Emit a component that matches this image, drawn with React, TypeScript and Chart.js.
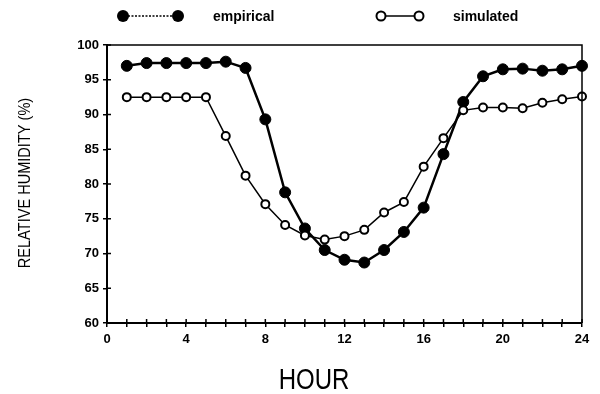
import React, { useEffect, useRef } from "react";
import { Chart, registerables } from "chart.js";

Chart.register(...registerables);

// Hourly relative humidity (%) over one day
const hours = [1, 2, 3, 4, 5, 6, 7, 8, 9, 10, 11, 12, 13, 14, 15, 16, 17, 18, 19, 20, 21, 22, 23, 24];
const empirical = [97.0, 97.4, 97.4, 97.4, 97.4, 97.6, 96.7, 89.3, 78.8, 73.6, 70.5, 69.1, 68.7, 70.5, 73.1, 76.6, 84.3, 91.8, 95.5, 96.5, 96.6, 96.3, 96.5, 97.0];
const simulated = [92.5, 92.5, 92.5, 92.5, 92.5, 86.9, 81.2, 77.1, 74.1, 72.6, 72.0, 72.5, 73.4, 75.9, 77.4, 82.5, 86.6, 90.6, 91.0, 91.0, 90.9, 91.7, 92.2, 92.6];

const seriesNames = ["empirical", "simulated"];
const xTitle = "HOUR";
const yTitle = "RELATIVE HUMIDITY (%)";
const xRange = [0, 24];
const yRange = [60, 100];
const xLabelEvery = 4;
const yStep = 5;

const FONT = "'Liberation Sans', Arial, sans-serif";

// Frame, inward tick marks, axis titles and the legend row
const decorations = {
  id: "decorations",
  afterDraw(chart: any) {
    const { ctx, chartArea } = chart;
    const xs = chart.scales.x;
    const ys = chart.scales.y;
    ctx.save();
    ctx.strokeStyle = "#000";
    ctx.fillStyle = "#000";

    // top and right frame
    ctx.lineWidth = 1.5;
    ctx.beginPath();
    ctx.moveTo(chartArea.left, chartArea.top);
    ctx.lineTo(chartArea.right, chartArea.top);
    ctx.lineTo(chartArea.right, chartArea.bottom);
    ctx.stroke();

    // ticks continue a few pixels inside the plot
    ctx.lineWidth = 1.5;
    ctx.beginPath();
    xs.ticks.forEach((t: any) => {
      const px = xs.getPixelForValue(t.value);
      ctx.moveTo(px, chartArea.bottom);
      ctx.lineTo(px, chartArea.bottom - 4);
    });
    ys.ticks.forEach((t: any) => {
      const py = ys.getPixelForValue(t.value);
      ctx.moveTo(chartArea.left, py);
      ctx.lineTo(chartArea.left + 4, py);
    });
    ctx.stroke();

    // axis titles
    ctx.textAlign = "center";
    ctx.textBaseline = "middle";
    ctx.save();
    ctx.translate(314, 381);
    ctx.scale(1, 1.2);
    ctx.font = `24px ${FONT}`;
    ctx.fillText(xTitle, 0, 0);
    ctx.restore();

    ctx.save();
    ctx.translate(25, 183);
    ctx.rotate(-Math.PI / 2);
    ctx.scale(0.91, 1.05);
    ctx.font = `16px ${FONT}`;
    ctx.fillText(yTitle, 0, 0);
    ctx.restore();

    // legend
    const ly = 16;
    ctx.lineWidth = 1.5;
    ctx.setLineDash([2, 1.5]);
    ctx.beginPath();
    ctx.moveTo(128, ly);
    ctx.lineTo(173, ly);
    ctx.stroke();
    ctx.setLineDash([]);
    [123, 178].forEach((cx) => {
      ctx.beginPath();
      ctx.arc(cx, ly, 6, 0, Math.PI * 2);
      ctx.fill();
    });
    ctx.beginPath();
    ctx.moveTo(385, ly);
    ctx.lineTo(415, ly);
    ctx.stroke();
    ctx.lineWidth = 2;
    [381, 419].forEach((cx) => {
      ctx.beginPath();
      ctx.arc(cx, ly, 4.5, 0, Math.PI * 2);
      ctx.fillStyle = "#fff";
      ctx.fill();
      ctx.stroke();
    });
    ctx.fillStyle = "#000";
    ctx.textAlign = "left";
    ctx.font = `bold 14px ${FONT}`;
    ctx.fillText(seriesNames[0], 213, ly + 1);
    ctx.fillText(seriesNames[1], 453, ly + 1);

    ctx.restore();
  },
};

export default function App() {
  const canvasRef = useRef<HTMLCanvasElement | null>(null);

  useEffect(() => {
    if (!canvasRef.current) return;
    const tickFont = { family: FONT, weight: "bold" as const, size: 13 };
    const chart = new Chart(canvasRef.current, {
      type: "line",
      data: {
        datasets: [
          {
            label: seriesNames[0],
            data: hours.map((h, i) => ({ x: h, y: empirical[i] })),
            borderColor: "#000",
            borderWidth: 2.5,
            pointRadius: 5.5,
            pointBackgroundColor: "#000",
            pointBorderColor: "#000",
            pointBorderWidth: 1,
            tension: 0,
            clip: false,
            order: 1,
          },
          {
            label: seriesNames[1],
            data: hours.map((h, i) => ({ x: h, y: simulated[i] })),
            borderColor: "#000",
            borderWidth: 1.5,
            pointRadius: 4,
            pointBackgroundColor: "#fff",
            pointBorderColor: "#000",
            pointBorderWidth: 2,
            tension: 0,
            clip: false,
            order: 0,
          },
        ],
      },
      options: {
        responsive: false,
        animation: false,
        devicePixelRatio: 1,
        layout: { padding: { top: 45, right: 18, bottom: 0, left: 0 } },
        plugins: { legend: { display: false }, tooltip: { enabled: false } },
        scales: {
          x: {
            type: "linear",
            min: xRange[0],
            max: xRange[1],
            afterFit: (s: any) => {
              s.height = 71;
            },
            ticks: {
              stepSize: 1,
              autoSkip: false,
              maxRotation: 0,
              padding: 5,
              color: "#000",
              font: tickFont,
              callback: (v: any) => (Number(v) % xLabelEvery === 0 ? String(v) : ""),
            },
            grid: { drawOnChartArea: false, tickLength: 4, color: "#000", lineWidth: 1.5 },
            border: { color: "#000", width: 2 },
          },
          y: {
            min: yRange[0],
            max: yRange[1],
            afterFit: (s: any) => {
              s.width = 107;
            },
            ticks: {
              stepSize: yStep,
              padding: 4,
              color: "#000",
              font: tickFont,
            },
            grid: { drawOnChartArea: false, tickLength: 4, color: "#000", lineWidth: 1.5 },
            border: { color: "#000", width: 2 },
          },
        },
      },
      plugins: [decorations],
    });
    return () => chart.destroy();
  }, []);

  return (
    <div style={{ position: "fixed", left: 0, top: 0, width: 600, height: 394, background: "#fff" }}>
      <canvas ref={canvasRef} width={600} height={394} style={{ display: "block" }} />
    </div>
  );
}
